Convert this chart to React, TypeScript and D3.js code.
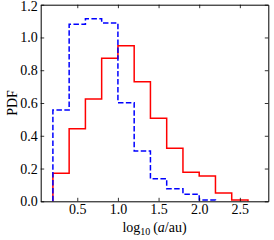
import React, { useRef, useEffect } from "react";
import * as d3 from "d3";

// bin edges of both histograms (log10 a/au)
const redEdges = [0.2, 0.4, 0.6, 0.8, 1.0, 1.2, 1.4, 1.6, 1.8, 2.0, 2.2, 2.4, 2.6];
const redValues = [0.171, 0.443, 0.625, 0.873, 0.95, 0.73, 0.507, 0.324, 0.178, 0.154, 0.051, 0.008];

const blueEdges = [0.2, 0.4, 0.6, 0.8, 1.0, 1.2, 1.4, 1.6, 1.8, 2.0, 2.2];
const blueValues = [0.557, 1.08, 1.115, 1.089, 0.602, 0.307, 0.138, 0.077, 0.043, 0.008];

const xTicks = [0.5, 1.0, 1.5, 2.0, 2.5];
const yTicks = [0.0, 0.2, 0.4, 0.6, 0.8, 1.0, 1.2];

const W = 274;
const H = 240;
const m = { left: 40.7, right: 274 - 268.3, top: 4.7, bottom: 240 - 201.3 };
const font = "'Liberation Serif', serif";
const fs = 14;

const stepPoints = (edges: number[], vals: number[]) => {
  const pts: [number, number][] = [[edges[0], 0]];
  vals.forEach((v, i) => {
    pts.push([edges[i], v]);
    pts.push([edges[i + 1], v]);
  });
  pts.push([edges[edges.length - 1], 0]);
  return pts;
};

const App = () => {
  const svgRef = useRef<SVGSVGElement>(null);

  useEffect(() => {
    document.body.style.margin = "0";
    const svg = d3.select(svgRef.current);
    svg.selectAll("*").remove();

    const x = d3.scaleLinear().domain([0.05, 2.85]).range([m.left, W - m.right]);
    const y = d3.scaleLinear().domain([0, 1.2]).range([H - m.bottom, m.top]);

    const line = d3
      .line<[number, number]>()
      .x((d) => x(d[0]))
      .y((d) => y(d[1]));

    // histograms
    svg.append("path")
      .attr("d", line(stepPoints(redEdges, redValues)))
      .attr("fill", "none")
      .attr("stroke", "#ff0000")
      .attr("stroke-width", 1.5);

    svg.append("path")
      .attr("d", line(stepPoints(blueEdges, blueValues)))
      .attr("fill", "none")
      .attr("stroke", "#0000ff")
      .attr("stroke-width", 1.5)
      .attr("stroke-dasharray", "5.5,2.4");

    // frame with inward ticks on every side
    const tl = 3.5;
    const axes = svg.append("g");
    axes.append("g")
      .attr("transform", `translate(0,${H - m.bottom})`)
      .call(d3.axisBottom(x).tickValues(xTicks).tickSizeInner(-tl).tickSizeOuter(0).tickPadding(3).tickFormat(d3.format(".1f")));
    axes.append("g")
      .attr("transform", `translate(0,${m.top})`)
      .call(d3.axisTop(x).tickValues(xTicks).tickSizeInner(-tl).tickSizeOuter(0).tickFormat(() => ""));
    const yAxis = axes.append("g")
      .attr("transform", `translate(${m.left},0)`)
      .call(d3.axisLeft(y).tickValues(yTicks).tickSizeInner(-tl).tickSizeOuter(0).tickPadding(3).tickFormat(d3.format(".1f")));
    axes.append("g")
      .attr("transform", `translate(${W - m.right},0)`)
      .call(d3.axisRight(y).tickValues(yTicks).tickSizeInner(-tl).tickSizeOuter(0).tickFormat(() => ""));

    axes.selectAll(".domain").attr("stroke", "#000").attr("stroke-width", 1);
    axes.selectAll(".tick line").attr("stroke", "#000").attr("stroke-width", 0.8);
    axes.selectAll(".tick text")
      .attr("font-family", font)
      .attr("font-size", fs)
      .attr("fill", "#000");

    // keep the top label inside the picture
    yAxis.selectAll<SVGTextElement, number>(".tick text")
      .filter((d) => d === 1.2)
      .attr("dy", "0.42em");

    // labels
    svg.append("text")
      .attr("transform", `translate(16.5,${(m.top + H - m.bottom) / 2}) rotate(-90)`)
      .attr("text-anchor", "middle")
      .attr("font-family", font)
      .attr("font-size", fs)
      .text("PDF");

    const xl = svg.append("text")
      .attr("x", (m.left + W - m.right) / 2)
      .attr("y", 232)
      .attr("text-anchor", "middle")
      .attr("font-family", font)
      .attr("font-size", fs);
    xl.append("tspan").text("log");
    xl.append("tspan").attr("font-size", 10).attr("dy", 3).text("10");
    xl.append("tspan").attr("dy", -3).text("\u2009(");
    xl.append("tspan").attr("font-style", "italic").text("a");
    xl.append("tspan").text("/au)");
  }, []);

  return <svg ref={svgRef} width={W} height={H} style={{ display: "block" }} />;
};

export default App;
